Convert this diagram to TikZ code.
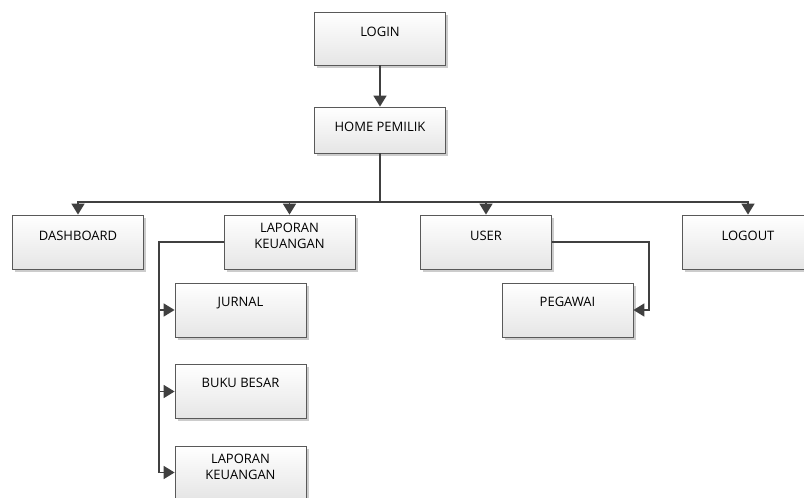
\documentclass[tikz,border=0pt]{standalone}
\usepackage{fontspec}
\setmainfont{Open Sans}
\usetikzlibrary{arrows.meta,shadows}

\begin{document}
\begin{tikzpicture}[x=1pt, y=-1pt, >={Triangle[width=13pt,length=11pt]},
    menu/.style={draw=black!65, line width=0.8pt, top color=white, bottom color=black!10,
        drop shadow={shadow xshift=2.5pt, shadow yshift=-2.5pt, fill=black!20, opacity=1},
        minimum width=131pt, minimum height=54pt, inner sep=0pt, align=center,
        font=\fontsize{13}{16}\selectfont, text=black, text depth=13pt},
    link/.style={->, draw=black!75, line width=1.7pt}]
    \useasboundingbox (0,0) rectangle (804,498);

    % menu boxes
    \node[menu, minimum height=53pt] (login) at (380,38.5) {LOGIN};
    \node[menu, minimum height=46pt, text depth=6pt] (home) at (380,130) {HOME PEMILIK};
    \node[menu] (dash) at (78,242) {DASHBOARD};
    \node[menu, text depth=12pt] (lapkeu) at (289.5,242) {LAPORAN\\KEUANGAN};
    \node[menu] (user) at (486,242) {USER};
    \node[menu] (logout) at (748,242) {LOGOUT};
    \node[menu, text depth=17pt] (pegawai) at (567.5,310) {PEGAWAI};
    \node[menu, text depth=17pt] (jurnal) at (240.5,310) {JURNAL};
    \node[menu, text depth=17pt] (bukubesar) at (240.5,391.5) {BUKU BESAR};
    \node[menu, minimum height=53pt, text depth=12pt] (lapkeu2) at (240.5,472.5) {LAPORAN\\KEUANGAN};

    \coordinate (bus) at (380,202);
    \coordinate (lapbar) at (159,242);
    \coordinate (userbar) at (649,242);

    % connectors
    \draw[link] (login) -- (home);
    \draw[link, -, line width=2.4pt] (home) -- (bus);
    \draw[link] (bus) -| (dash);
    \draw[link] (bus) -| (lapkeu);
    \draw[link] (bus) -| (user);
    \draw[link] (bus) -| (logout);
    \draw[link] (lapkeu) -- (lapbar) |- (jurnal);
    \draw[link] (lapbar) |- (bukubesar);
    \draw[link] (lapbar) |- (lapkeu2);
    \draw[link] (user) -- (userbar) |- (pegawai);
\end{tikzpicture}
\end{document}
